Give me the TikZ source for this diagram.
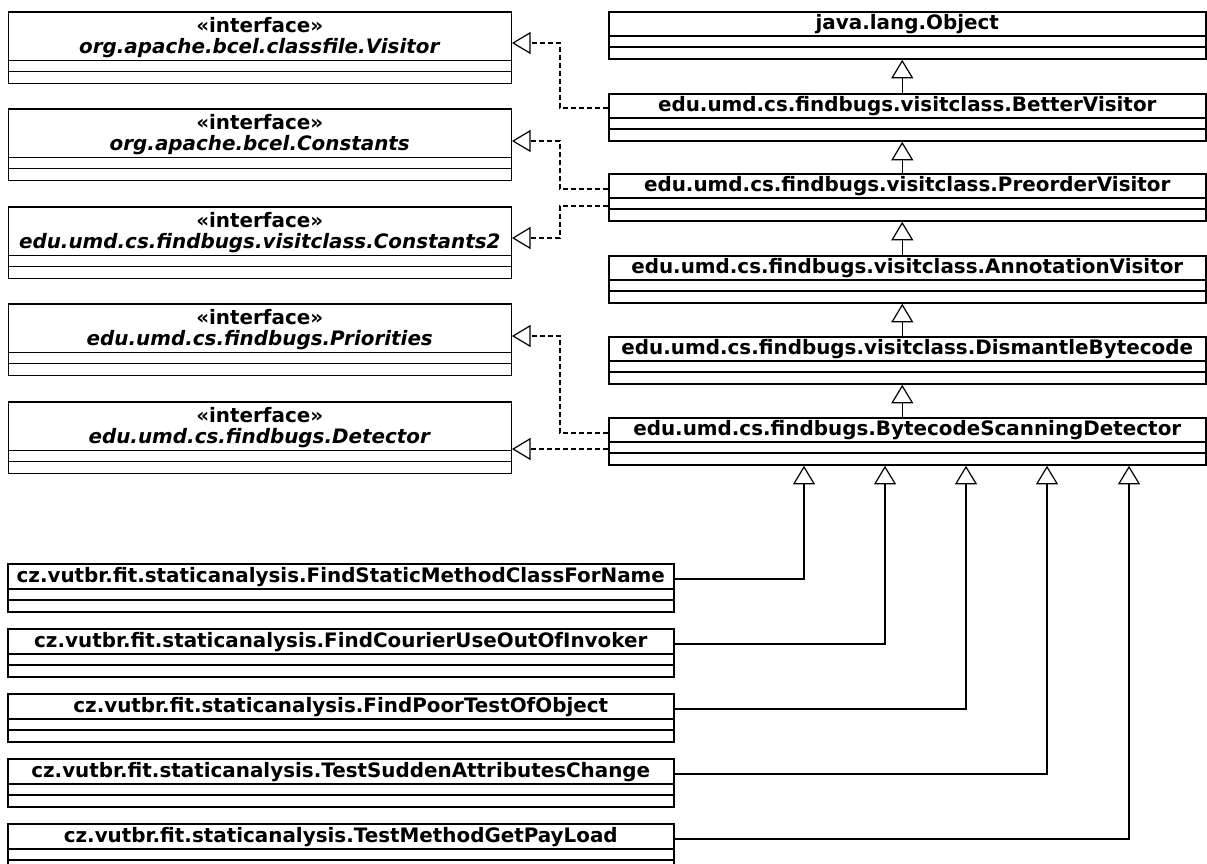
\documentclass[tikz,border=0pt]{standalone}
\usepackage{fontspec}
\setmainfont{DejaVu Sans}
\usetikzlibrary{shapes.multipart,arrows.meta}
\tikzset{
    classbox/.style={draw, line width=1.5pt, rectangle split, rectangle split parts=3,
        inner xsep=0pt, inner ysep=0pt, align=center, anchor=north west,
        font=\fontsize{19.9}{21}\selectfont\bfseries},
    extend/.style={line width=1.2pt, -{Triangle[open,length=18.5pt,width=22pt]}},
    realize/.style={extend, dash pattern=on 5pt off 3pt}
}
\newcommand{\emptyparts}{\nodepart{two}\rule{0pt}{9.7pt}\nodepart{three}\rule{0pt}{10.4pt}}
\newcommand{\stereo}[1]{\rule{0pt}{19.5pt}«interface»\\\rule[-6.5pt]{0pt}{6.5pt}\textit{#1}}

\begin{document}
\begin{tikzpicture}[x=1pt,y=-1pt]
    \useasboundingbox (0,0) rectangle (1207,863);
    \clip (0,0) rectangle (1207,863);
    % interfaces
    \node[classbox, text width=503pt] (vis) at (7.5,11) {\stereo{org.apache.bcel.classfile.Visitor}\emptyparts};
    \node[classbox, text width=503pt] (con) at (7.5,108) {\stereo{org.apache.bcel.Constants}\emptyparts};
    \node[classbox, text width=503pt] (con2) at (7.5,206) {\stereo{edu.umd.cs.findbugs.visitclass.Constants2}\emptyparts};
    \node[classbox, text width=503pt] (pri) at (7.5,303) {\stereo{edu.umd.cs.findbugs.Priorities}\emptyparts};
    \node[classbox, text width=503pt] (det) at (7.5,401) {\stereo{edu.umd.cs.findbugs.Detector}\emptyparts};
    % class chain
    \node[classbox, text width=597pt] (obj) at (608,11) {\rule[-5.5pt]{0pt}{22.7pt}java.lang.Object\emptyparts};
    \node[classbox, text width=597pt] (bv) at (608,93) {\rule[-5.5pt]{0pt}{22.7pt}edu.umd.cs.findbugs.visitclass.BetterVisitor\emptyparts};
    \node[classbox, text width=597pt] (pv) at (608,173) {\rule[-5.5pt]{0pt}{22.7pt}edu.umd.cs.findbugs.visitclass.PreorderVisitor\emptyparts};
    \node[classbox, text width=597pt] (av) at (608,255) {\rule[-5.5pt]{0pt}{22.7pt}edu.umd.cs.findbugs.visitclass.AnnotationVisitor\emptyparts};
    \node[classbox, text width=597pt] (db) at (608,336) {\rule[-5.5pt]{0pt}{22.7pt}edu.umd.cs.findbugs.visitclass.DismantleBytecode\emptyparts};
    \node[classbox, text width=597pt] (bsd) at (608,417) {\rule[-5.5pt]{0pt}{22.7pt}edu.umd.cs.findbugs.BytecodeScanningDetector\emptyparts};
    % detectors
    \node[classbox, text width=666pt] (fsm) at (7,563) {\rule[-5.5pt]{0pt}{23.5pt}cz.vutbr.fit.staticanalysis.FindStaticMethodClassForName\emptyparts};
    \node[classbox, text width=666pt] (fcu) at (7,628) {\rule[-5.5pt]{0pt}{23.5pt}cz.vutbr.fit.staticanalysis.FindCourierUseOutOfInvoker\emptyparts};
    \node[classbox, text width=666pt] (fpt) at (7,693) {\rule[-5.5pt]{0pt}{23.5pt}cz.vutbr.fit.staticanalysis.FindPoorTestOfObject\emptyparts};
    \node[classbox, text width=666pt] (tsa) at (7,758) {\rule[-5.5pt]{0pt}{23.5pt}cz.vutbr.fit.staticanalysis.TestSuddenAttributesChange\emptyparts};
    \node[classbox, text width=666pt] (tgp) at (7,823) {\rule[-5.5pt]{0pt}{23.5pt}cz.vutbr.fit.staticanalysis.TestMethodGetPayLoad\emptyparts};

    \draw[realize] ([yshift=-15pt]bv.north west) -- ++(-48,0) |- ([yshift=-32pt]vis.north east);
    \draw[realize] ([yshift=-16pt]pv.north west) -- ++(-48,0) |- ([yshift=-33pt]con.north east);
    \draw[realize] ([yshift=-33pt]pv.north west) -- ++(-48,0) |- ([yshift=-32pt]con2.north east);
    \draw[realize] ([yshift=-16pt]bsd.north west) -- ++(-48,0) |- ([yshift=-33pt]pri.north east);
    \draw[realize] ([yshift=-32pt]bsd.north west) -- ([yshift=-48pt]det.north east);

    \draw[extend] ([xshift=-5pt]bv.north) -- ([xshift=-5pt]obj.south);
    \draw[extend] ([xshift=-5pt]pv.north) -- ([xshift=-5pt]bv.south);
    \draw[extend] ([xshift=-5pt]av.north) -- ([xshift=-5pt]pv.south);
    \draw[extend] ([xshift=-5pt]db.north) -- ([xshift=-5pt]av.south);
    \draw[extend] ([xshift=-5pt]bsd.north) -- ([xshift=-5pt]db.south);

    \draw[extend] ([yshift=-16pt]fsm.north east) -| ([xshift=196pt]bsd.south west);
    \draw[extend] ([yshift=-16pt]fcu.north east) -| ([xshift=277pt]bsd.south west);
    \draw[extend] ([yshift=-16pt]fpt.north east) -| ([xshift=358pt]bsd.south west);
    \draw[extend] ([yshift=-16pt]tsa.north east) -| ([xshift=439pt]bsd.south west);
    \draw[extend] ([yshift=-16pt]tgp.north east) -| ([xshift=521pt]bsd.south west);
\end{tikzpicture}
\end{document}
